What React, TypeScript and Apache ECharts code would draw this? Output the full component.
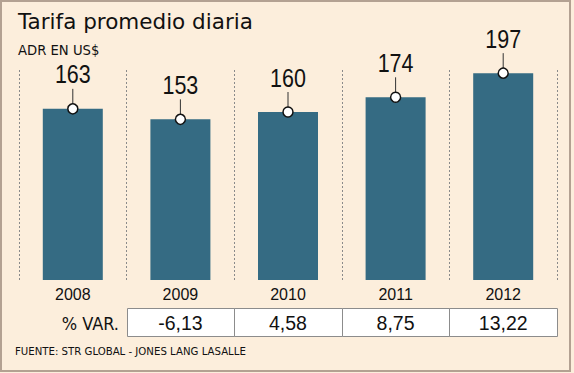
import { useEffect, useRef } from 'react';
import * as echarts from 'echarts';

const years = ['2008', '2009', '2010', '2011', '2012'];
const adr = [163, 153, 160, 174, 197];
const variation: (number | null)[] = [null, -6.13, 4.58, 8.75, 13.22];
const titleText = 'Tarifa promedio diaria';
const subtitleText = 'ADR EN US$';
const tableHeader = '% VAR.';
const sourceText = 'FUENTE: STR GLOBAL - JONES LANG LASALLE';

const fmt = (v: number) => v.toFixed(2).replace('.', ',');

export default function App() {
  const ref = useRef<HTMLDivElement>(null);
  useEffect(() => {
    if (!ref.current) return;
    const chart = echarts.init(ref.current, undefined, { renderer: 'svg' });
    chart.setOption({
      animation: false,
      backgroundColor: '#FCEEDC',
      grid: { left: 19, right: 17, top: 70, bottom: 93 },
      xAxis: {
        type: 'category',
        data: years,
        boundaryGap: true,
        axisLine: { show: false },
        axisTick: { show: false },
        axisLabel: {
          margin: 6,
          fontSize: 16,
          fontFamily: '"Liberation Sans", sans-serif',
          color: '#111',
        },
        splitLine: {
          show: true,
          lineStyle: { color: '#8a8a8a', type: [2, 2], width: 1 },
        },
      },
      yAxis: {
        type: 'value',
        min: 0,
        max: 200,
        show: false,
        splitLine: { show: false },
      },
      graphic: [
        {
          type: 'rect',
          shape: { x: 1, y: 1, width: 569, height: 370 },
          style: { fill: 'none', stroke: '#B3A192', lineWidth: 2 },
          z: 100,
        },
        {
          type: 'text',
          x: 18,
          y: 21.5,
          style: {
            text: titleText,
            font: '21.5px "DejaVu Sans", sans-serif',
            fill: '#111',
            textVerticalAlign: 'middle',
          },
        },
        {
          type: 'text',
          x: 18,
          y: 50,
          style: {
            text: subtitleText,
            font: '13.2px "DejaVu Sans", sans-serif',
            fill: '#111',
            textVerticalAlign: 'middle',
          },
        },
        {
          type: 'text',
          x: 119,
          y: 323,
          style: {
            text: tableHeader,
            font: '18px "DejaVu Sans Condensed", sans-serif',
            fill: '#111',
            textAlign: 'right',
            textVerticalAlign: 'middle',
          },
        },
        {
          type: 'text',
          x: 15,
          y: 351.5,
          style: {
            text: sourceText,
            font: '11.3px "DejaVu Sans Condensed", sans-serif',
            fill: '#111',
            textVerticalAlign: 'middle',
          },
        },
      ],
      series: [
        {
          type: 'bar',
          data: adr,
          barWidth: 60,
          itemStyle: { color: '#356B83' },
          z: 2,
        },
        {
          type: 'custom',
          data: adr.map((v, i) => [i, v]),
          encode: { x: 0, y: 1 },
          clip: false,
          z: 5,
          renderItem: (_params: any, api: any) => {
            const p = api.coord([api.value(0), api.value(1)]);
            return {
              type: 'group',
              children: [
                {
                  type: 'line',
                  shape: { x1: p[0], y1: p[1] - 5, x2: p[0], y2: p[1] - 20 },
                  style: { stroke: '#333', lineWidth: 1 },
                },
                {
                  type: 'circle',
                  shape: { cx: p[0], cy: p[1], r: 5 },
                  style: { fill: '#fff', stroke: '#111', lineWidth: 1.5 },
                },
                {
                  type: 'text',
                  x: p[0],
                  y: p[1] - 34,
                  scaleX: 0.86,
                  style: {
                    text: String(api.value(1)),
                    x: 0,
                    y: 0,
                    textAlign: 'center',
                    textVerticalAlign: 'middle',
                    font: '25px "Liberation Sans", sans-serif',
                    fill: '#111',
                  },
                },
              ],
            };
          },
        },
        {
          type: 'custom',
          data: variation
            .map((v, i) => [i, v])
            .filter((d) => d[1] !== null),
          encode: { x: 0, y: 1 },
          clip: false,
          z: 5,
          renderItem: (_params: any, api: any) => {
            const idx = api.value(0);
            const base = api.coord([idx, 0]);
            const w = api.size([1, 0])[0];
            const top = Math.round(base[1] + 28) + 0.5;
            const left = Math.round(base[0] - w / 2) + 0.5;
            return {
              type: 'group',
              children: [
                {
                  type: 'rect',
                  shape: { x: left, y: top, width: Math.round(w), height: 28 },
                  style: { fill: '#fff', stroke: '#8c8c8c', lineWidth: 1 },
                },
                {
                  type: 'text',
                  style: {
                    text: fmt(api.value(1)),
                    x: base[0],
                    y: top + 14.5,
                    textAlign: 'center',
                    textVerticalAlign: 'middle',
                    font: '19.5px "Liberation Sans", sans-serif',
                    fill: '#111',
                  },
                },
              ],
            };
          },
        },
      ],
    });
    return () => chart.dispose();
  }, []);
  return (
    <div
      ref={ref}
      style={{ position: 'absolute', left: 0, top: 0, width: 574, height: 373 }}
    />
  );
}
